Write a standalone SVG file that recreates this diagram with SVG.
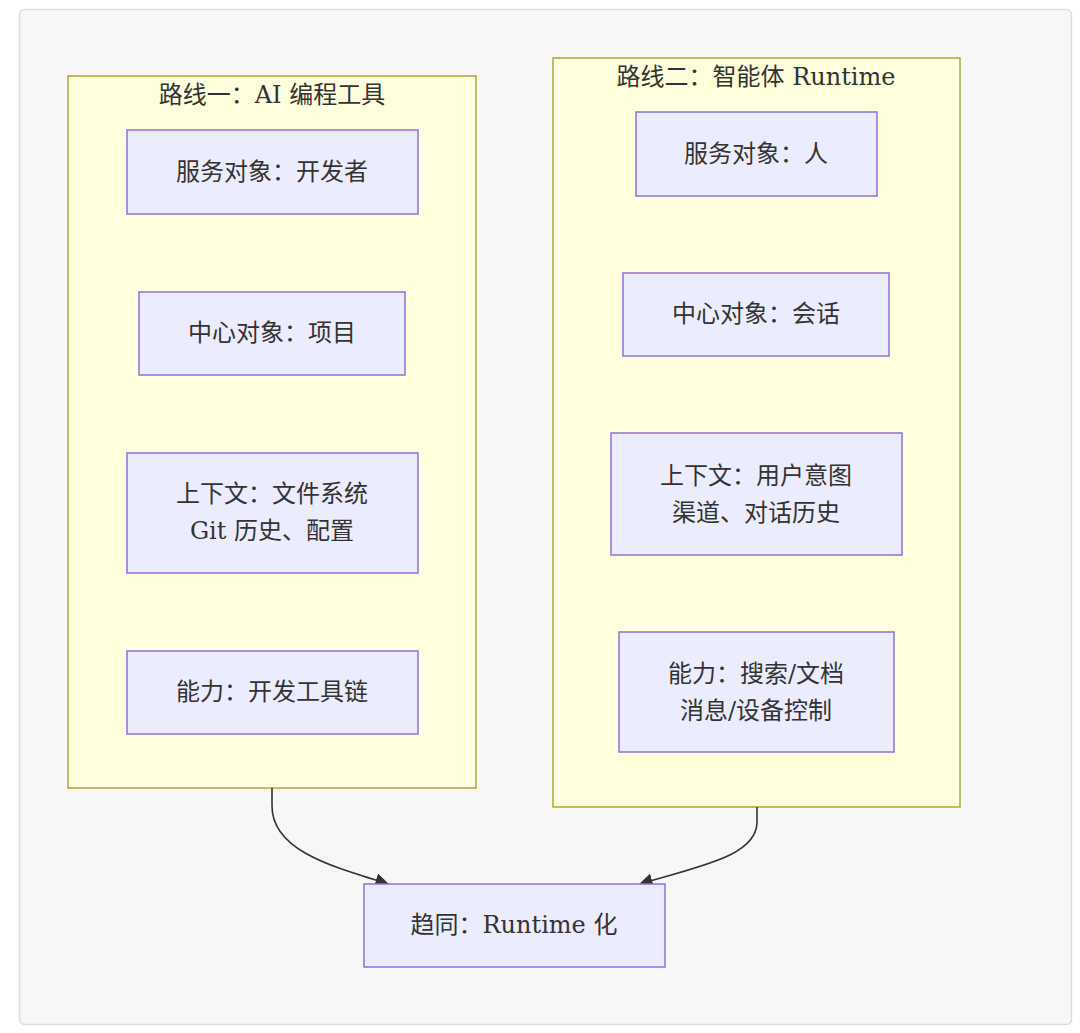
<svg xmlns="http://www.w3.org/2000/svg" width="1080" height="1033" viewBox="0 0 1080 1033">
<defs>
<style>
.frame{fill:#f7f7f7;stroke:#dddddd;stroke-width:1.5}
.cluster{fill:#ffffde;stroke:#aaaa33;stroke-width:1.5}
.node{fill:#ececff;stroke:#9370db;stroke-width:1.5}
.t{font-family:"DejaVu Serif","Noto Sans CJK SC",serif;font-size:24px;fill:#333333;text-anchor:middle;dominant-baseline:central}
.edge{fill:none;stroke:#333333;stroke-width:1.6}
</style>
<marker id="arrow" viewBox="0 0 10 10" refX="9" refY="5" markerUnits="userSpaceOnUse" markerWidth="14" markerHeight="14" orient="auto">
<path d="M0,0 L10,5 L0,10 z" fill="#333333"/>
</marker>
</defs>
<rect width="1080" height="1033" fill="#ffffff"/>
<rect class="frame" x="19.5" y="9.5" width="1052" height="1015" rx="5"/>

<g id="cluster1">
<rect class="cluster" x="68" y="76" width="408" height="712"/>
<text class="t" x="272" y="95">路线一：AI 编程工具</text>
</g>
<g id="cluster2">
<rect class="cluster" x="553" y="58" width="407" height="749"/>
<text class="t" x="756" y="77">路线二：智能体 Runtime</text>
</g>

<g id="edges">
<path class="edge" d="M272,788 L272,806 C272,850 330,866 388,884" marker-end="url(#arrow)"/>
<path class="edge" d="M757,807 L757,822 C757,856 700,866 640,884" marker-end="url(#arrow)"/>
</g>

<g id="n1">
<rect class="node" x="127" y="130" width="291" height="84"/>
<text class="t" x="272" y="172">服务对象：开发者</text>
</g>
<g id="n2">
<rect class="node" x="139" y="292" width="266" height="83"/>
<text class="t" x="272" y="333">中心对象：项目</text>
</g>
<g id="n3">
<rect class="node" x="127" y="453" width="291" height="120"/>
<text class="t" x="272" y="494">上下文：文件系统</text>
<text class="t" x="272" y="531">Git 历史、配置</text>
</g>
<g id="n4">
<rect class="node" x="127" y="651" width="291" height="83"/>
<text class="t" x="272" y="692">能力：开发工具链</text>
</g>

<g id="m1">
<rect class="node" x="636" y="112" width="241" height="84"/>
<text class="t" x="756" y="154">服务对象：人</text>
</g>
<g id="m2">
<rect class="node" x="623" y="273" width="266" height="83"/>
<text class="t" x="756" y="314">中心对象：会话</text>
</g>
<g id="m3">
<rect class="node" x="611" y="433" width="291" height="122"/>
<text class="t" x="756" y="476">上下文：用户意图</text>
<text class="t" x="756" y="513">渠道、对话历史</text>
</g>
<g id="m4">
<rect class="node" x="619" y="632" width="275" height="120"/>
<text class="t" x="756" y="674">能力：搜索/文档</text>
<text class="t" x="756" y="711">消息/设备控制</text>
</g>

<g id="final">
<rect class="node" x="364" y="884" width="301" height="83"/>
<text class="t" x="514" y="925">趋同：Runtime 化</text>
</g>
</svg>
